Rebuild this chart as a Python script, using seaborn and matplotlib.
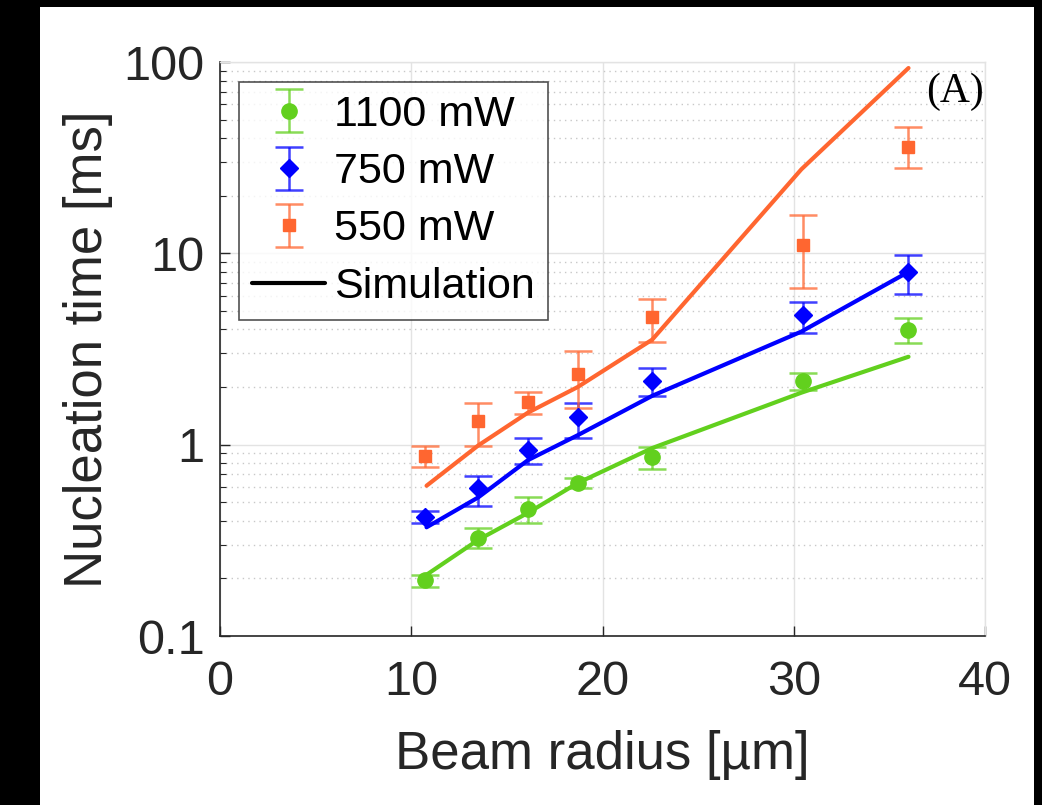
import numpy as np
import pandas as pd
import matplotlib
matplotlib.use('Agg')
import matplotlib.pyplot as plt
import seaborn as sns
from matplotlib.lines import Line2D
from matplotlib.patches import Rectangle
from matplotlib.ticker import LogLocator, NullFormatter

# 測定データ (ビーム半径 [µm] と核生成時間 [ms])
radius = [10.7, 13.5, 16.1, 18.7, 22.6, 30.5, 36.0]

t_1100 = [0.196, 0.326, 0.462, 0.632, 0.866, 2.14, 3.96]
lo_1100 = [0.180, 0.289, 0.390, 0.595, 0.750, 1.94, 3.40]
hi_1100 = [0.209, 0.368, 0.533, 0.670, 0.976, 2.38, 4.60]

t_750 = [0.42, 0.595, 0.94, 1.39, 2.16, 4.78, 7.95]
lo_750 = [0.39, 0.48, 0.79, 1.09, 1.80, 3.85, 6.10]
hi_750 = [0.45, 0.69, 1.09, 1.65, 2.53, 5.60, 9.86]

t_550 = [0.876, 1.33, 1.68, 2.35, 4.65, 11.1, 35.9]
lo_550 = [0.76, 0.99, 1.45, 1.56, 3.46, 6.6, 27.8]
hi_550 = [0.98, 1.65, 1.89, 3.10, 5.80, 15.8, 46.0]

# シミュレーション
sim_radius = [10.8, 13.5, 16.1, 18.7, 22.6, 30.4, 36.0]
sim_1100 = [0.209, 0.318, 0.44, 0.63, 0.96, 1.87, 2.88]
sim_750 = [0.37, 0.53, 0.83, 1.12, 1.80, 3.90, 8.0]
sim_550 = [0.61, 0.99, 1.47, 2.00, 3.54, 27.5, 93.0]

labels = ['1100 mW', '750 mW', '550 mW']
colors = ['#62d01e', '#0000ff', '#ff6630']
markers = ['o', 'D', 's']
msizes = [11, 9.5, 8]

sns.set_theme(style='white')
plt.rcParams['font.family'] = ['Liberation Sans', 'DejaVu Sans']
text_col = '#262626'

fig = plt.figure(figsize=(10.42, 8.05), dpi=100)
fig.patch.set_facecolor('black')
fig.patches.append(Rectangle((40/1042, 0), 994/1042, 798/805,
                             transform=fig.transFigure, facecolor='white',
                             edgecolor='none', zorder=-10))
ax = fig.add_axes([220/1042, 1 - 636/805, 765/1042, 574/805])

sim_df = pd.DataFrame({
    'r': sim_radius * 3,
    't': sim_1100 + sim_750 + sim_550,
    'p': [labels[0]] * 7 + [labels[1]] * 7 + [labels[2]] * 7,
})
sns.lineplot(data=sim_df, x='r', y='t', hue='p', palette=dict(zip(labels, colors)),
             linewidth=3, legend=False, ax=ax, zorder=2)

handles = []
for t, lo, hi, c, m, ms, lab in zip([t_1100, t_750, t_550], [lo_1100, lo_750, lo_550],
                                    [hi_1100, hi_750, hi_550], colors, markers, msizes, labels):
    t = np.array(t)
    yerr = [t - np.array(lo), np.array(hi) - t]
    h = ax.errorbar(radius, t, yerr=yerr, fmt=m, color=c, ms=ms, mec=c,
                    elinewidth=1.8, capsize=10, capthick=1.8, ecolor=c,
                    label=lab, zorder=3)
    for bar in h[2]:
        bar.set_alpha(0.75)
    for cap in h[1]:
        cap.set_alpha(0.75)
    handles.append(h)
handles.append(Line2D([], [], color='black', linewidth=3))

ax.set_yscale('log')
ax.set_xlim(0, 40)
ax.set_ylim(0.1, 100)
ax.set_xticks([0, 10, 20, 30, 40])
ax.set_yticks([0.1, 1, 10, 100])
ax.set_yticklabels(['0.1', '1', '10', '100'])
ax.yaxis.set_minor_locator(LogLocator(base=10, subs=np.arange(2, 10)))
ax.yaxis.set_minor_formatter(NullFormatter())

ax.grid(True, which='major', color='#e3e3e3', linewidth=1.0, linestyle='-')
ax.grid(True, which='minor', axis='y', color='#c8c8c8', linewidth=1.0, linestyle=(0, (1, 3)))
ax.set_axisbelow(True)

for s in ['left', 'bottom']:
    ax.spines[s].set_color(text_col)
    ax.spines[s].set_linewidth(1.2)
for s in ['top', 'right']:
    ax.spines[s].set_color('#e3e3e3')
    ax.spines[s].set_linewidth(1.0)

ax.tick_params(axis='both', which='major', direction='in', length=7, width=1.0,
               labelsize=35, colors=text_col, left=True, bottom=True)
ax.tick_params(axis='x', pad=17)
ax.tick_params(axis='y', pad=11)
ax.tick_params(axis='y', which='minor', direction='in', length=4, width=0.8,
               colors=text_col, left=True)

ax.set_xlabel('Beam radius [µm]', fontsize=38, color=text_col)
ax.set_ylabel('Nucleation time [ms]', fontsize=38, color=text_col)
ax.xaxis.set_label_coords(0.5, -0.207)
ax.xaxis.label.set_va('center')
ax.yaxis.set_label_coords(-0.172, 0.5)
ax.yaxis.label.set_va('center')

ax.text(0.998, 0.982, '(A)', transform=ax.transAxes, ha='right', va='top',
        fontsize=30, family=['Liberation Serif', 'DejaVu Serif'], color='black')

leg = ax.legend(handles, labels + ['Simulation'], loc='upper left',
                bbox_to_anchor=(0.025, 0.965), borderaxespad=0, fontsize=31,
                frameon=True, fancybox=False, handlelength=1.7, handletextpad=0.2,
                labelspacing=0.4, borderpad=0.3)
leg.get_frame().set_edgecolor(text_col)
leg.get_frame().set_linewidth(1.2)
for txt in leg.get_texts():
    txt.set_color('black')

fig.savefig('out.png', dpi=100, facecolor=fig.get_facecolor())
